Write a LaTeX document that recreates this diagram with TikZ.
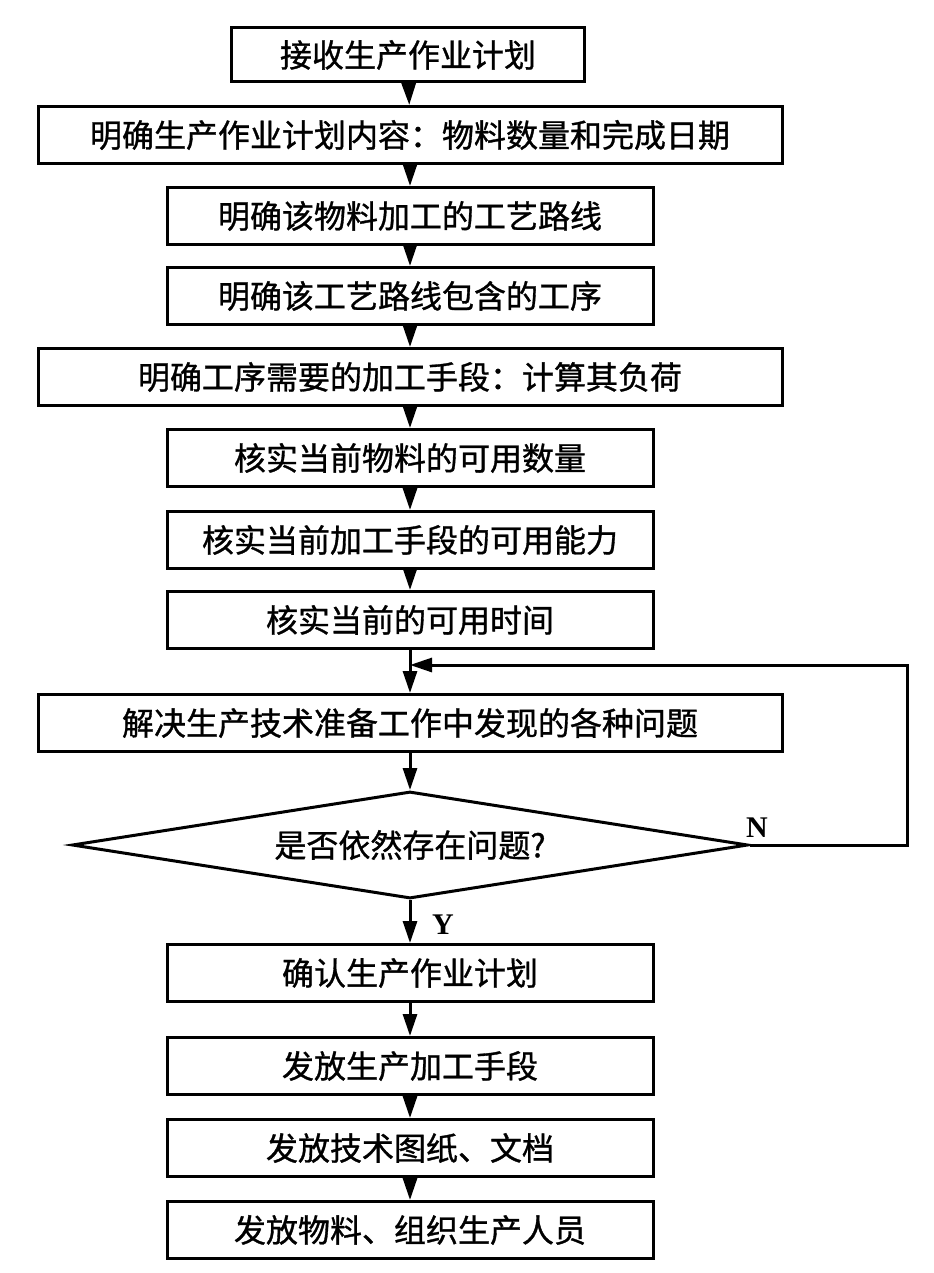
\documentclass[tikz,border=0pt]{standalone}
\usepackage{fontspec}
\setmainfont{Liberation Serif}
\newfontfamily\cjk[FakeBold=1]{Noto Sans CJK SC}
\usetikzlibrary{shapes,arrows.meta,positioning}
\tikzstyle{proc}=[rectangle, draw=black, line width=1.5pt, inner sep=0pt, font=\cjk\fontsize{16pt}{18pt}\selectfont]
\tikzstyle{narrow}=[proc, minimum width=243pt, minimum height=28.5pt]
\tikzstyle{wide}=[proc, minimum width=372pt, minimum height=28.5pt]
\tikzstyle{decide}=[diamond, aspect=6.3, draw=black, line width=1.5pt, inner sep=0pt, minimum width=338pt, minimum height=53.5pt, font=\cjk\fontsize{16pt}{18pt}\selectfont]
\tikzstyle{l1}=[line width=1.5pt, -{Triangle[length=11pt,width=7pt]}]
\tikzstyle{yn}=[font=\fontsize{15pt}{18pt}\selectfont\bfseries]

\begin{document}
\begin{tikzpicture}[x=0.5pt, y=-0.5pt]
    \useasboundingbox (0,0) rectangle (933,1273);
    % steps before the check
    \node (p1) [proc, minimum width=176.5pt, minimum height=27pt] at (408,55) {接收生产作业计划};
    \node (p2) [wide] at (410,135) {明确生产作业计划内容：物料数量和完成日期};
    \node (p3) [narrow] at (410,216) {明确该物料加工的工艺路线};
    \node (p4) [narrow] at (410,296) {明确该工艺路线包含的工序};
    \node (p5) [wide] at (410,377) {明确工序需要的加工手段：计算其负荷};
    \node (p6) [narrow] at (410,458) {核实当前物料的可用数量};
    \node (p7) [narrow] at (410,540) {核实当前加工手段的可用能力};
    \node (p8) [narrow] at (410,620) {核实当前的可用时间};
    \node (p9) [wide] at (410,723) {解决生产技术准备工作中发现的各种问题};
    \node (q) [decide] at (410,845) {是否依然存在问题?};
    % steps after the check
    \node (p10) [narrow] at (410,973) {确认生产作业计划};
    \node (p11) [narrow] at (410,1066) {发放生产加工手段};
    \node (p12) [narrow] at (410,1148) {发放技术图纸、文档};
    \node (p13) [narrow] at (410,1230) {发放物料、组织生产人员};
    \coordinate (j) at (410,665);

    \draw[l1] (p1) -- (p2);
    \draw[l1] (p2) -- (p3);
    \draw[l1] (p3) -- (p4);
    \draw[l1] (p4) -- (p5);
    \draw[l1] (p5) -- (p6);
    \draw[l1] (p6) -- (p7);
    \draw[l1] (p7) -- (p8);
    \draw[l1] (p8) -- (p9);
    \draw[l1] (p9) -- (q);
    \draw[l1] (q) -- (p10);
    \draw[l1] (p10) -- (p11);
    \draw[l1] (p11) -- (p12);
    \draw[l1] (p12) -- (p13);
    \draw[l1] (q.east) -- ++(158,0) |- (j);

    \node (n) [yn] at (757,828) {N};
    \node (y) [yn] at (443,925) {Y};
\end{tikzpicture}
\end{document}
